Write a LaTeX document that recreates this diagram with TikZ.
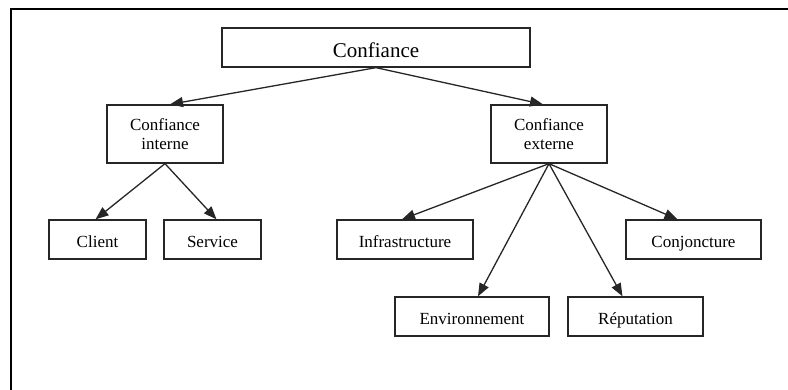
\documentclass[tikz,border=0pt]{standalone}
\usepackage{fontspec}
\setmainfont{Liberation Serif}
\usetikzlibrary{arrows.meta}
\begin{document}
\begin{tikzpicture}[x=1pt,y=-1pt,
  box/.style={draw=black!85,line width=1.3pt,rectangle,inner sep=0pt,font=\fontsize{17}{19}\selectfont,align=center},
  one/.style={text height=17pt,text depth=2pt},
  arr/.style={draw=black!85,line width=1.3pt,-{Triangle[length=13pt,width=10pt]}},
  frame/.style={draw=black,line width=2pt}]
\useasboundingbox (0,0) rectangle (788,389);
\draw[frame] (11,392) -- (11,9) -- (792,9);
\node[box,minimum width=308pt,minimum height=39pt,text height=21pt,text depth=2pt,font=\fontsize{21}{23}\selectfont] (c) at (376,47.5) {Confiance};
\node[box,minimum width=116pt,minimum height=58pt] (ci) at (165,134) {Confiance\\interne};
\node[box,minimum width=116pt,minimum height=58pt] (ce) at (549,134) {Confiance\\externe};
\node[box,one,minimum width=97pt,minimum height=39pt] (cl) at (97.5,239.5) {Client};
\node[box,one,minimum width=97pt,minimum height=39pt] (se) at (212.5,239.5) {Service};
\node[box,one,minimum width=136pt,minimum height=39pt] (in) at (405,239.5) {Infrastructure};
\node[box,one,minimum width=135pt,minimum height=39pt] (cj) at (693.5,239.5) {Conjoncture};
\node[box,one,minimum width=154pt,minimum height=39pt] (en) at (472,316.5) {Environnement};
\node[box,one,minimum width=135pt,minimum height=39pt] (re) at (635.5,316.5) {Réputation};
\draw[arr] (c.south) -- ([xshift=5pt]ci.north);
\draw[arr] (c.south) -- ([xshift=-6pt]ce.north);
\draw[arr] (ci.south) -- ([xshift=-2pt]cl.north);
\draw[arr] (ci.south) -- ([xshift=4pt]se.north);
\draw[arr] (ce.south) -- ([xshift=-3pt]in.north);
\draw[arr] (ce.south) -- ([xshift=6pt]en.north);
\draw[arr] (ce.south) -- ([xshift=-13pt]re.north);
\draw[arr] (ce.south) -- ([xshift=-16pt]cj.north);
\end{tikzpicture}
\end{document}
